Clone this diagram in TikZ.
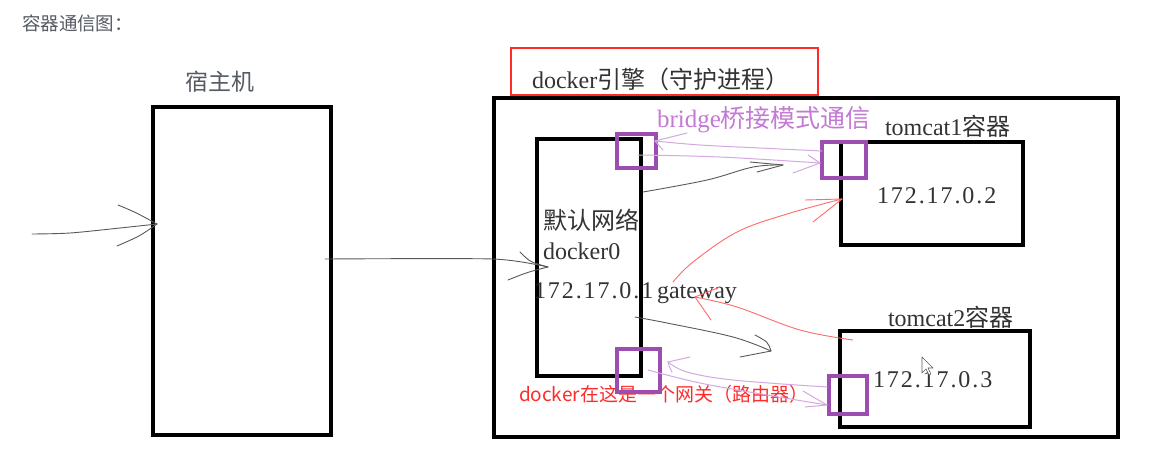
\documentclass[tikz,border=0pt]{standalone}
\usepackage{fontspec}
\setmainfont{Liberation Serif}
\newfontfamily\cjk{Noto Sans CJK SC}
\newfontfamily\numf{Liberation Serif}[LetterSpace=8]
\definecolor{boxpurple}{HTML}{9C4DB0}
\definecolor{lpurple}{HTML}{D4A8E2}
\definecolor{bridgec}{HTML}{C47AD4}
\definecolor{redline}{HTML}{FF6A6A}
\definecolor{redtext}{HTML}{FF2A2A}
\definecolor{graytext}{HTML}{555B63}
\definecolor{darktext}{HTML}{333333}
\definecolor{grayline}{HTML}{5A5A5A}
\begin{document}
\begin{tikzpicture}[x=1pt,y=-1pt,
  box/.style={draw=black, line width=3.2pt, inner sep=0pt, outer sep=0pt},
  pbox/.style={draw=boxpurple, line width=3.2pt, inner sep=0pt, outer sep=0pt},
  rbox/.style={draw=redtext, line width=1.5pt, inner sep=0pt, outer sep=0pt},
  txt/.style={inner sep=0pt, outer sep=0pt, anchor=base west},
  serif24/.style={txt, text=darktext, font=\fontsize{24}{28}\selectfont},
  gl/.style={draw=grayline, line width=0.9pt, line cap=round, line join=round},
  pl/.style={draw=lpurple, line width=1pt, line cap=round, line join=round},
  rl/.style={draw=redline, line width=0.9pt, line cap=round, line join=round}]
\useasboundingbox (0,0) rectangle (1152,461);
\fill[white] (0,0) rectangle (1152,461);

% title
\node[txt, text=graytext, font=\cjk\fontsize{18.5}{22}\selectfont] (title) at (22,30) {容器通信图：};

% host
\node[txt, text=graytext, font=\cjk\fontsize{23}{26}\selectfont] (hostlbl) at (185,90) {宿主机};
\node[box, minimum width=178pt, minimum height=328pt] (host) at (242,271) {};

% docker engine
\node[rbox, minimum width=307pt, minimum height=47pt] (engbox) at (664.5,71.5) {};
\node[serif24] (englbl) at (532,88) {docker{\cjk 引擎（守护进程）}};
\node[box, minimum width=624pt, minimum height=339pt] (engine) at (806,267.5) {};

% docker0
\node[box, minimum width=104pt, minimum height=237pt] (d0) at (589,257.5) {};
\node[serif24] (d0a) at (543,229) {\cjk 默认网络};
\node[serif24] (d0b) at (543,259) {docker0};
\node[serif24, font=\numf\fontsize{24}{28}\selectfont] (d0c) at (534,298) {172.17.0.1};
\node[serif24] (gw) at (657,298) {gateway};

% tomcat1
\node[box, minimum width=182pt, minimum height=103pt] (t1) at (932,193.5) {};
\node[serif24] (t1lbl) at (885,135) {tomcat1{\cjk 容器}};
\node[serif24, font=\numf\fontsize{24}{28}\selectfont] (t1ip) at (877,203) {172.17.0.2};

% tomcat2
\node[box, minimum width=190pt, minimum height=96pt] (t2) at (935,379) {};
\node[serif24] (t2lbl) at (888,326) {tomcat2{\cjk 容器}};
\node[serif24, font=\numf\fontsize{24}{28}\selectfont] (t2ip) at (873,387) {172.17.0.3};

% bridge label
\node[txt, text=bridgec, font=\fontsize{25}{28}\selectfont] (brlbl) at (657,127) {bridge{\cjk 桥接模式通信}};

% red label
\node[txt, text=redtext, font=\cjk\fontsize{19}{22}\selectfont] (gwlbl) at (519,401) {docker在这是一个网关（路由器）};

% purple ports
\node[pbox, minimum width=39pt, minimum height=34pt] (p1) at (636.5,151) {};
\node[pbox, minimum width=44pt, minimum height=36pt] (p2) at (844,160) {};
\node[pbox, minimum width=43pt, minimum height=43pt] (p3) at (638.5,370.5) {};
\node[pbox, minimum width=38pt, minimum height=38pt] (p4) at (848,395) {};

% named end points
\coordinate (inS) at (32,234);
\coordinate (inE) at (157,224);
\coordinate (hS) at (325,259);
\coordinate (hE) at (548,267);
\coordinate (g1S) at (643,192);
\coordinate (g1E) at (783,165);
\coordinate (g2S) at (635,317);
\coordinate (g2E) at (771,351);
\coordinate (pa1S) at (822,151);
\coordinate (pa1E) at (655,141);
\coordinate (pa2S) at (638,155);
\coordinate (pa2E) at (820,163);
\coordinate (pb1S) at (827,387);
\coordinate (pb1E) at (668,362);
\coordinate (pb2S) at (648,370);
\coordinate (pb2E) at (827,405);
\coordinate (r1S) at (673,282);
\coordinate (r1E) at (842,199);
\coordinate (r2S) at (853,340);
\coordinate (r2E) at (695,297);

% outside -> host
\draw[gl] plot[smooth, tension=0.5] coordinates {(inS) (70,233) (120,228) (inE)};
\draw[gl] (118,205) .. controls (135,212) .. (inE);
\draw[gl] (117,246) .. controls (140,236) .. (inE);

% host -> docker0
\draw[gl] plot[smooth, tension=0.4] coordinates {(hS) (493,259) (hE)};
\draw[gl] (520,252) .. controls (530,262) .. (hE);
\draw[gl] (508,280) .. controls (528,272) .. (hE);

% gray arrows
\draw[gl] plot[smooth, tension=0.6] coordinates {(g1S) (707,180) (753,167) (g1E)};
\draw[gl] (750,162) -- (g1E);
\draw[gl] (757,172) -- (g1E);
\draw[gl] plot[smooth, tension=0.6] coordinates {(g2S) (667,323) (733,337) (g2E)};
\draw[gl] (755,335) .. controls (768,342) .. (g2E);
\draw[gl] (740,357) -- (g2E);

% purple arrows top
\draw[pl] plot[smooth, tension=0.6] coordinates {(pa1S) (760,148) (700,145) (pa1E)};
\draw[pl] (687,133) -- (pa1E);
\draw[pl] (pa1E) -- (663,150);
\draw[pl] plot[smooth, tension=0.6] coordinates {(pa2S) (720,157) (pa2E)};
\draw[pl] (808,155) -- (pa2E);
\draw[pl] (793,173) -- (pa2E);

% purple arrows bottom
\draw[pl] plot[smooth, tension=0.6] coordinates {(pb1S) (733,380) (687,372) (pb1E)};
\draw[pl] (690,357) -- (pb1E);
\draw[pl] (pb1E) .. controls (669,366) .. (672,372);
\draw[pl] plot[smooth, tension=0.6] coordinates {(pb2S) (700,383) (767,395) (pb2E)};
\draw[pl] (803,391) -- (pb2E);
\draw[pl] (805,407) -- (pb2E);

% red arrows
\draw[rl] plot[smooth, tension=0.6] coordinates {(r1S) (693,262) (737,232) (787,214) (r1E)};
\draw[rl] (805,200) -- (r1E);
\draw[rl] (813,222) -- (r1E);
\draw[rl] plot[smooth, tension=0.6] coordinates {(r2S) (800,330) (737,307) (r2E)};
\draw[rl] (720,287) -- (r2E);
\draw[rl] (r2E) -- (711,320);

% mouse cursor
\draw[fill=white, draw=gray!70!black, line width=0.6pt, line join=round]
  (922,357) -- (922,373) -- (926,369) -- (929,375) -- (931,374) -- (928,368) -- (933,368) -- cycle;
\end{tikzpicture}
\end{document}
